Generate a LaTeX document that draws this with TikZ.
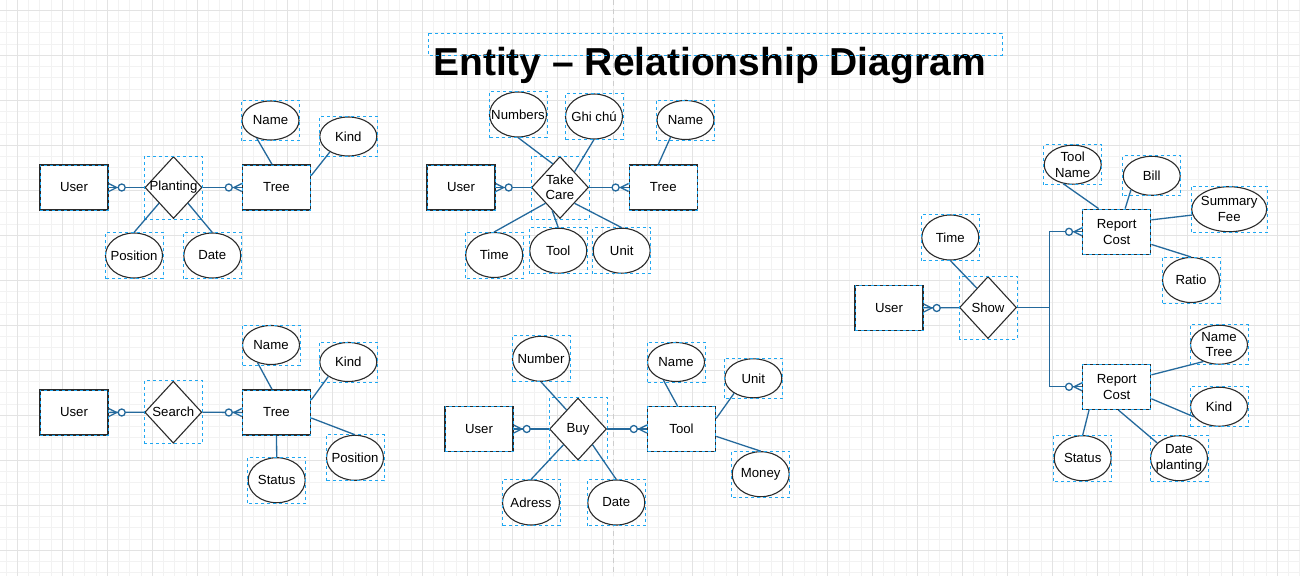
\documentclass[tikz,border=0pt]{standalone}
\usepackage{fontspec}
\setmainfont{Liberation Sans}
\usetikzlibrary{shapes.geometric, calc}

\definecolor{selblue}{HTML}{1EA7F2}
\definecolor{linkblue}{HTML}{24699C}
\definecolor{gridminor}{HTML}{F2F2F2}
\definecolor{gridmajor}{HTML}{E3E3E3}
\definecolor{pagebreak}{HTML}{CDCDCD}
\definecolor{shapeline}{HTML}{2B2B2B}

\tikzset{
  entity/.style={rectangle, draw=shapeline, fill=white, line width=1.4pt, minimum width=68pt, minimum height=45pt, inner sep=0pt, align=center,
    postaction={draw=selblue, line width=0.9pt, dash pattern=on 3pt off 3pt}},
  relation/.style={diamond, draw=shapeline, fill=white, line width=1.1pt, minimum width=57pt, minimum height=62pt, inner sep=0pt, label={[align=center]center:#1}},
  attr/.style={ellipse, draw=shapeline, fill=white, line width=1.1pt, minimum width=57pt, minimum height=45pt, inner sep=0pt, label={[align=center]center:#1}},
  attrlow/.style={attr=#1, minimum height=39pt},
  link/.style={draw=linkblue, line width=1.3pt},
  selbox/.style={draw=selblue, line width=0.9pt, dash pattern=on 3pt off 3pt},
}

% zero-or-many ends
\newcommand{\manyE}[1]{%
  \draw[link] ($(#1.east)+(0,-4)$) -- ($(#1.east)+(8,0)$) -- ($(#1.east)+(0,4)$);
  \draw[link, fill=white] ($(#1.east)+(13,0)$) circle (3.5);
}
\newcommand{\manyW}[1]{%
  \draw[link] ($(#1.west)+(0,-4)$) -- ($(#1.west)+(-8,0)$) -- ($(#1.west)+(0,4)$);
  \draw[link, fill=white] ($(#1.west)+(-13,0)$) circle (3.5);
}

\begin{document}
\begin{tikzpicture}[x=1pt, y=-1pt, font=\fontsize{13.2}{15.5}\selectfont]
    \useasboundingbox (0,0) rectangle (1300,576);
    \fill[white] (0,0) rectangle (1300,576);

    % Grid
    \foreach \i in {0,...,116}
        \draw[gridminor, line width=0.8pt] ({6.05+11.25*\i},0) -- ++(0,576);
    \foreach \j in {0,...,51}
        \draw[gridminor, line width=0.8pt] (0,{-0.95+11.25*\j}) -- ++(1300,0);
    \foreach \i in {0,...,28}
        \draw[gridmajor, line width=0.8pt] ({17.3+45*\i},0) -- ++(0,576);
    \foreach \j in {0,...,12}
        \draw[gridmajor, line width=0.8pt] (0,{10.3+45*\j}) -- ++(1300,0);
    \draw[pagebreak, line width=1.6pt, dash pattern=on 5pt off 4pt] (613.3,0) -- (613.3,576);

    % Title
    \node[font=\fontsize{39}{45}\selectfont\bfseries, anchor=base] (title) at (709.5,75) {Entity – Relationship Diagram};
    \draw[selbox] (428,33) rectangle (1002,55);

    % Planting
    \node[entity] (user1) at (74,187.5) {User};
    \node[relation=Planting] (plant) at (173.5,187.5) {};
    \node[entity] (tree1) at (276.5,187.5) {Tree};
    \node[attrlow=Name] (name1) at (270.5,120.5) {};
    \node[attrlow=Kind] (kind1) at (348.3,136.5) {};
    \node[attr=Position] (pos1) at (134,255.5) {};
    \node[attr=Date] (date1) at (212.3,255.5) {};

    % Take Care
    \node[entity] (user2) at (461,187.5) {User};
    \node[relation={Take\\Care}] (care) at (560,187.5) {};
    \node[entity] (tree2) at (663.3,187.5) {Tree};
    \node[attr=Numbers] (numbers) at (518,114.5) {};
    \node[attr={Ghi chú}] (ghichu) at (594,116.5) {};
    \node[attrlow=Name] (name2) at (685.5,120) {};
    \node[attr=Time] (time2) at (494.2,255) {};
    \node[attr=Tool] (tool2) at (558.3,250.7) {};
    \node[attr=Unit] (unit2) at (621.7,250.7) {};

    % Search
    \node[entity] (user3) at (74,412.5) {User};
    \node[relation=Search] (search) at (173.3,412.2) {};
    \node[entity] (tree3) at (276.5,412.5) {Tree};
    \node[attrlow=Name] (name3) at (271,345) {};
    \node[attrlow=Kind] (kind3) at (348.3,362) {};
    \node[attr=Position] (pos3) at (355,457.8) {};
    \node[attr=Status] (status3) at (276.7,480.2) {};

    % Buy
    \node[entity] (user4) at (479,429) {User};
    \node[relation=Buy] (buy) at (578,429) {};
    \node[entity] (tool4) at (681.5,429) {Tool};
    \node[attr=Number] (number4) at (541,358.8) {};
    \node[attrlow=Name] (name4) at (676,362) {};
    \node[attrlow=Unit] (unit4) at (753.3,378.3) {};
    \node[attr=Money] (money4) at (760.7,474.2) {};
    \node[attr=Adress] (adress) at (531,502.5) {};
    \node[attr=Date] (date4) at (616.3,502.5) {};

    % Show
    \node[entity] (user5) at (889,308) {User};
    \node[relation=Show] (show) at (988,307.5) {};
    \node[entity] (rc1) at (1116.7,231.8) {Report\\Cost};
    \node[entity] (rc2) at (1116.7,386.8) {Report\\Cost};
    \node[attr=Time] (time5) at (950.3,237.5) {};
    \node[attrlow={Tool\\Name}] (toolname) at (1072.7,164.7) {};
    \node[attrlow=Bill] (bill) at (1151.7,175.8) {};
    \node[attr={Summary\\Fee}, minimum width=75pt] (fee) at (1229.2,209.2) {};
    \node[attr=Ratio] (ratio) at (1191,280) {};
    \node[attrlow={Name\\Tree}] (nametree) at (1219,344.7) {};
    \node[attrlow=Kind] (kind5) at (1219,406.7) {};
    \node[attr=Status] (status5) at (1082.7,458.2) {};
    \node[attr={Date\\planting}] (dateplant) at (1179,458.2) {};

    % Selection frames
    \foreach \n in {plant, name1, kind1, pos1, date1, care, numbers, ghichu, name2, time2, tool2, unit2,
                    search, name3, kind3, pos3, status3, buy, number4, name4, unit4, money4, adress, date4,
                    show, time5, toolname, bill, fee, ratio, nametree, kind5, status5, dateplant}
        \draw[selbox] (\n.south -| \n.west) rectangle (\n.north -| \n.east);

    % Relationships
    \draw[link] (user1) -- (plant);
    \draw[link] (plant) -- (tree1);
    \manyE{user1} \manyW{tree1}
    \draw[link] (user2) -- (care);
    \draw[link] (care) -- (tree2);
    \manyE{user2} \manyW{tree2}
    \draw[link] (user3) -- (search);
    \draw[link] (search) -- (tree3);
    \manyE{user3} \manyW{tree3}
    \draw[link] (user4) -- (buy);
    \draw[link] (buy) -- (tool4);
    \manyE{user4} \manyW{tool4}
    \draw[link] (user5) -- (show);
    \coordinate (fork) at (1049.3,307.5);
    \draw[link] (show.east) -- (fork) |- (rc1);
    \draw[link] (fork) |- (rc2);
    \manyE{user5} \manyW{rc1} \manyW{rc2}

    % Attributes
    \draw[link] (name1.232) -- (tree1.101);
    \draw[link] (kind1.220) -- (tree1.19);
    \draw[link] (pos1.north) -- (plant.south west);
    \draw[link] (date1.north) -- (plant.south east);

    \draw[link] (numbers.south) -- (care.107);
    \draw[link] (ghichu.south) -- (care.north east);
    \draw[link] (name2.229) -- (tree2.102);
    \draw[link] (time2.north) -- (care.south west);
    \draw[link] (tool2.north) -- (care.251);
    \draw[link] (unit2.north) -- (care.south east);

    \draw[link] (name3.233) -- (tree3.101);
    \draw[link] (kind3.216) -- (tree3.20);
    \draw[link] (pos3.north) -- (tree3.351);
    \draw[link] (status3.north) -- (tree3.south);

    \draw[link] (number4.south) -- (buy.121);
    \draw[link] (adress.north) -- (buy.south west);
    \draw[link] (date4.north) -- (buy.south east);
    \draw[link] (name4.235) -- (tool4.100);
    \draw[link] (unit4.218) -- (tool4.17);
    \draw[link] (money4.north) -- (tool4.348);

    \draw[link] (time5.south) -- (show.120);
    \draw[link] (toolname.243) -- (rc1.128);
    \draw[link] (bill.214) -- (rc1.70);
    \draw[link] (fee.189) -- (rc1.19);
    \draw[link] (ratio.north) -- (rc1.340);
    \draw[link] (nametree.227) -- (rc2.19);
    \draw[link] (kind5.202) -- (rc2.341);
    \draw[link] (status5.north) -- (rc2.220);
    \draw[link] (dateplant.145) -- (rc2.274);
\end{tikzpicture}
\end{document}
